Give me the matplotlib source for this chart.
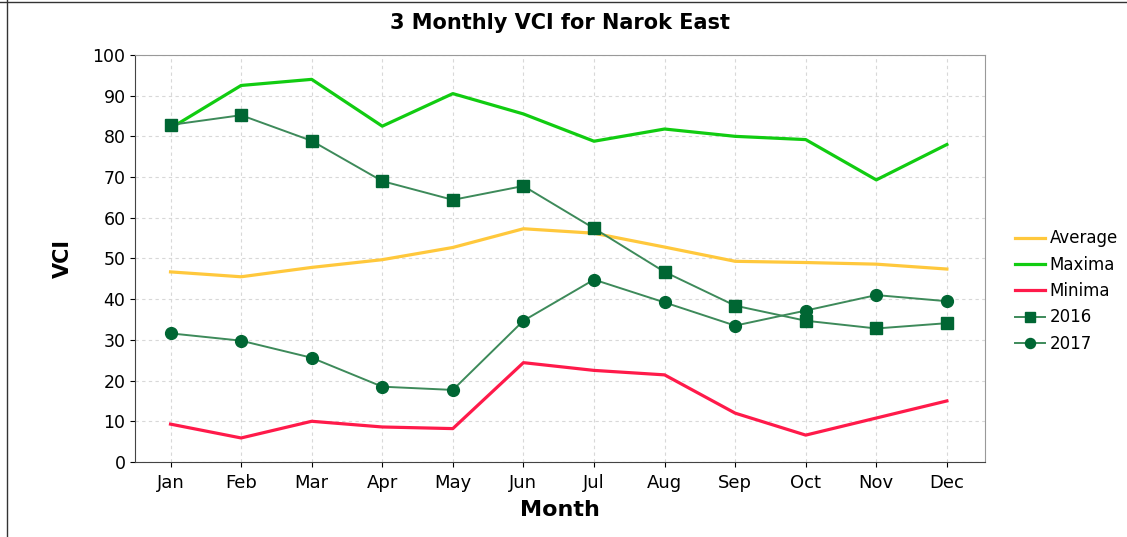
import numpy as np
from matplotlib import pyplot as plt

months = ['Jan', 'Feb', 'Mar', 'Apr', 'May', 'Jun', 'Jul', 'Aug', 'Sep', 'Oct', 'Nov', 'Dec']
average = [46.7, 45.5, 47.8, 49.7, 52.7, 57.3, 56.2, 52.8, 49.3, 49.0, 48.6, 47.4]
maxima = [82.0, 92.5, 94.0, 82.5, 90.5, 85.5, 78.8, 81.8, 80.0, 79.2, 69.3, 78.0]
minima = [9.3, 5.9, 10.0, 8.6, 8.2, 24.4, 22.5, 21.4, 12.0, 6.6, 10.8, 15.0]
vci_2016 = [82.8, 85.2, 78.9, 69.0, 64.4, 67.8, 57.4, 46.7, 38.4, 34.7, 32.8, 34.1]
vci_2017 = [31.6, 29.8, 25.6, 18.5, 17.7, 34.7, 44.8, 39.2, 33.5, 37.2, 41.0, 39.5]

plt.rcParams['font.family'] = ['DejaVu Sans']

fig = plt.figure(figsize=(11.27, 5.37), dpi=100)
ax = fig.add_axes([0.12, 0.1397, 0.754, 0.758])

x = np.arange(len(months))
ax.plot(x, average, color='#ffc83c', lw=2.3, label='Average')
ax.plot(x, maxima, color='#11cc11', lw=2.3, label='Maxima')
ax.plot(x, minima, color='#ff1a4a', lw=2.3, label='Minima')
ax.plot(x, vci_2016, color='#3d8a5a', lw=1.4, marker='s', ms=8,
        mfc='#006633', mec='#006633', label='2016')
ax.plot(x, vci_2017, color='#3d8a5a', lw=1.4, marker='o', ms=8.5,
        mfc='#006633', mec='#006633', label='2017')

ax.set_xlim(-0.5, 11.54)
ax.set_ylim(0, 100)
ax.set_xticks(x)
ax.set_xticklabels(months, fontsize=13)
ax.set_yticks(np.arange(0, 101, 10))
ax.tick_params(axis='y', labelsize=12.5)
ax.tick_params(axis='x', pad=5)
ax.grid(True, color='#d8d8d8', linestyle=(0, (3, 3)), lw=0.8)
ax.set_axisbelow(True)
for s in ax.spines.values():
    s.set_color('#999999')
ax.spines['left'].set_color('#444444')
ax.spines['bottom'].set_color('#444444')

ax.set_xlabel('Month', fontsize=16, fontweight='bold', labelpad=6)
ax.set_ylabel('VCI', fontsize=15, fontweight='bold', labelpad=14)
ax.set_title('3 Monthly VCI for Narok East', fontsize=15, fontweight='bold', pad=19)

ax.legend(loc='center left', bbox_to_anchor=(1.035, 0.42), frameon=False,
          fontsize=12, handlelength=1.8, labelspacing=0.5, handletextpad=0.3,
          borderaxespad=0, borderpad=0, markerscale=0.85)

# thin frame around the figure on left and top
fig.add_artist(plt.Line2D([0.006, 0.006], [0, 1], color='#333333', lw=1))
fig.add_artist(plt.Line2D([0, 1], [0.997, 0.997], color='#333333', lw=1))

plt.savefig('out.png', dpi=100)
